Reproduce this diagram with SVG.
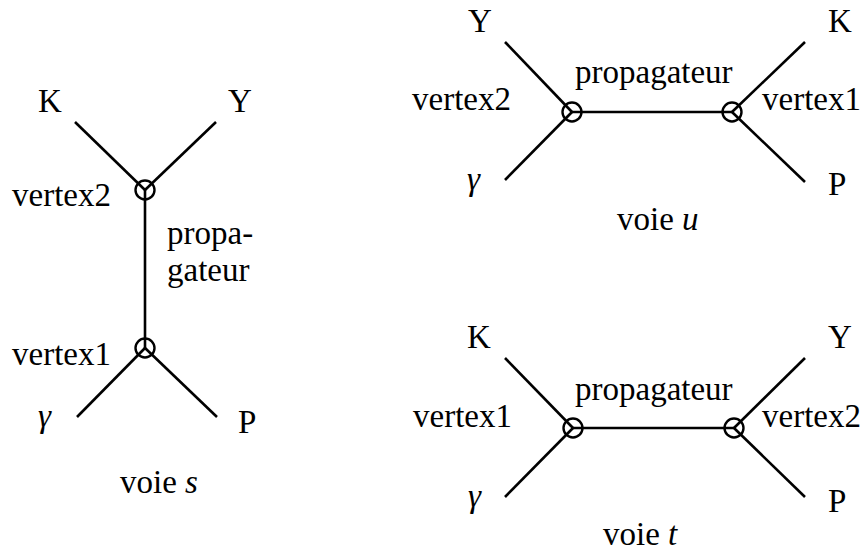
<svg xmlns="http://www.w3.org/2000/svg" width="863" height="553" viewBox="0 0 863 553">
<style>
text{font-family:"Liberation Serif","Times New Roman",serif;font-size:33px;fill:#000}
.it{font-style:italic}
.ln{stroke:#000;stroke-width:2.6;fill:none;stroke-linecap:butt}
.vx{stroke:#000;stroke-width:2.4;fill:none}
</style>
<rect width="863" height="553" fill="#fff"/>
<g id="connectors">
<!-- voie s -->
<line class="ln" x1="75" y1="122" x2="145" y2="190"/>
<line class="ln" x1="216" y1="122" x2="145" y2="190"/>
<line class="ln" x1="145" y1="190" x2="145" y2="348"/>
<line class="ln" x1="145" y1="348" x2="77" y2="417"/>
<line class="ln" x1="145" y1="348" x2="217" y2="417"/>
<!-- voie u -->
<line class="ln" x1="505" y1="42" x2="572" y2="112"/>
<line class="ln" x1="572" y1="112" x2="505" y2="180"/>
<line class="ln" x1="572" y1="112" x2="732" y2="112"/>
<line class="ln" x1="805" y1="42" x2="732" y2="112"/>
<line class="ln" x1="732" y1="112" x2="805" y2="182"/>
<!-- voie t -->
<line class="ln" x1="505" y1="358" x2="573" y2="428"/>
<line class="ln" x1="573" y1="428" x2="505" y2="497"/>
<line class="ln" x1="573" y1="428" x2="734" y2="428"/>
<line class="ln" x1="805" y1="358" x2="734" y2="428"/>
<line class="ln" x1="734" y1="428" x2="805" y2="497"/>
</g>
<g id="s-vertex2"><circle class="vx" cx="145" cy="190" r="9.5"/><text x="12" y="206">vertex2</text></g>
<g id="s-vertex1"><circle class="vx" cx="145" cy="348" r="9.5"/><text x="12" y="365">vertex1</text></g>
<g id="s-K"><text x="38" y="112">K</text></g>
<g id="s-Y"><text x="228" y="112">Y</text></g>
<g id="s-gamma"><text class="it" x="38" y="427">γ</text></g>
<g id="s-P"><text x="238" y="433">P</text></g>
<g id="s-prop"><text x="167" y="244">propa-</text><text x="167" y="281">gateur</text></g>
<g id="s-title"><text x="120" y="493">voie <tspan class="it">s</tspan></text></g>

<g id="u-vertex2"><circle class="vx" cx="572" cy="112" r="9.5"/><text x="412" y="110">vertex2</text></g>
<g id="u-vertex1"><circle class="vx" cx="732" cy="112" r="9.5"/><text x="762" y="110">vertex1</text></g>
<g id="u-Y"><text x="468" y="32">Y</text></g>
<g id="u-K"><text x="828" y="32">K</text></g>
<g id="u-gamma"><text class="it" x="467" y="190">γ</text></g>
<g id="u-P"><text x="828" y="195">P</text></g>
<g id="u-prop"><text x="575" y="83">propagateur</text></g>
<g id="u-title"><text x="617" y="230">voie <tspan class="it">u</tspan></text></g>

<g id="t-vertex1"><circle class="vx" cx="573" cy="428" r="9.5"/><text x="413" y="427">vertex1</text></g>
<g id="t-vertex2"><circle class="vx" cx="734" cy="428" r="9.5"/><text x="762" y="427">vertex2</text></g>
<g id="t-K"><text x="467" y="348">K</text></g>
<g id="t-Y"><text x="828" y="348">Y</text></g>
<g id="t-gamma"><text class="it" x="468" y="507">γ</text></g>
<g id="t-P"><text x="828" y="512">P</text></g>
<g id="t-prop"><text x="575" y="400">propagateur</text></g>
<g id="t-title"><text x="603" y="545">voie <tspan class="it">t</tspan></text></g>
</svg>
